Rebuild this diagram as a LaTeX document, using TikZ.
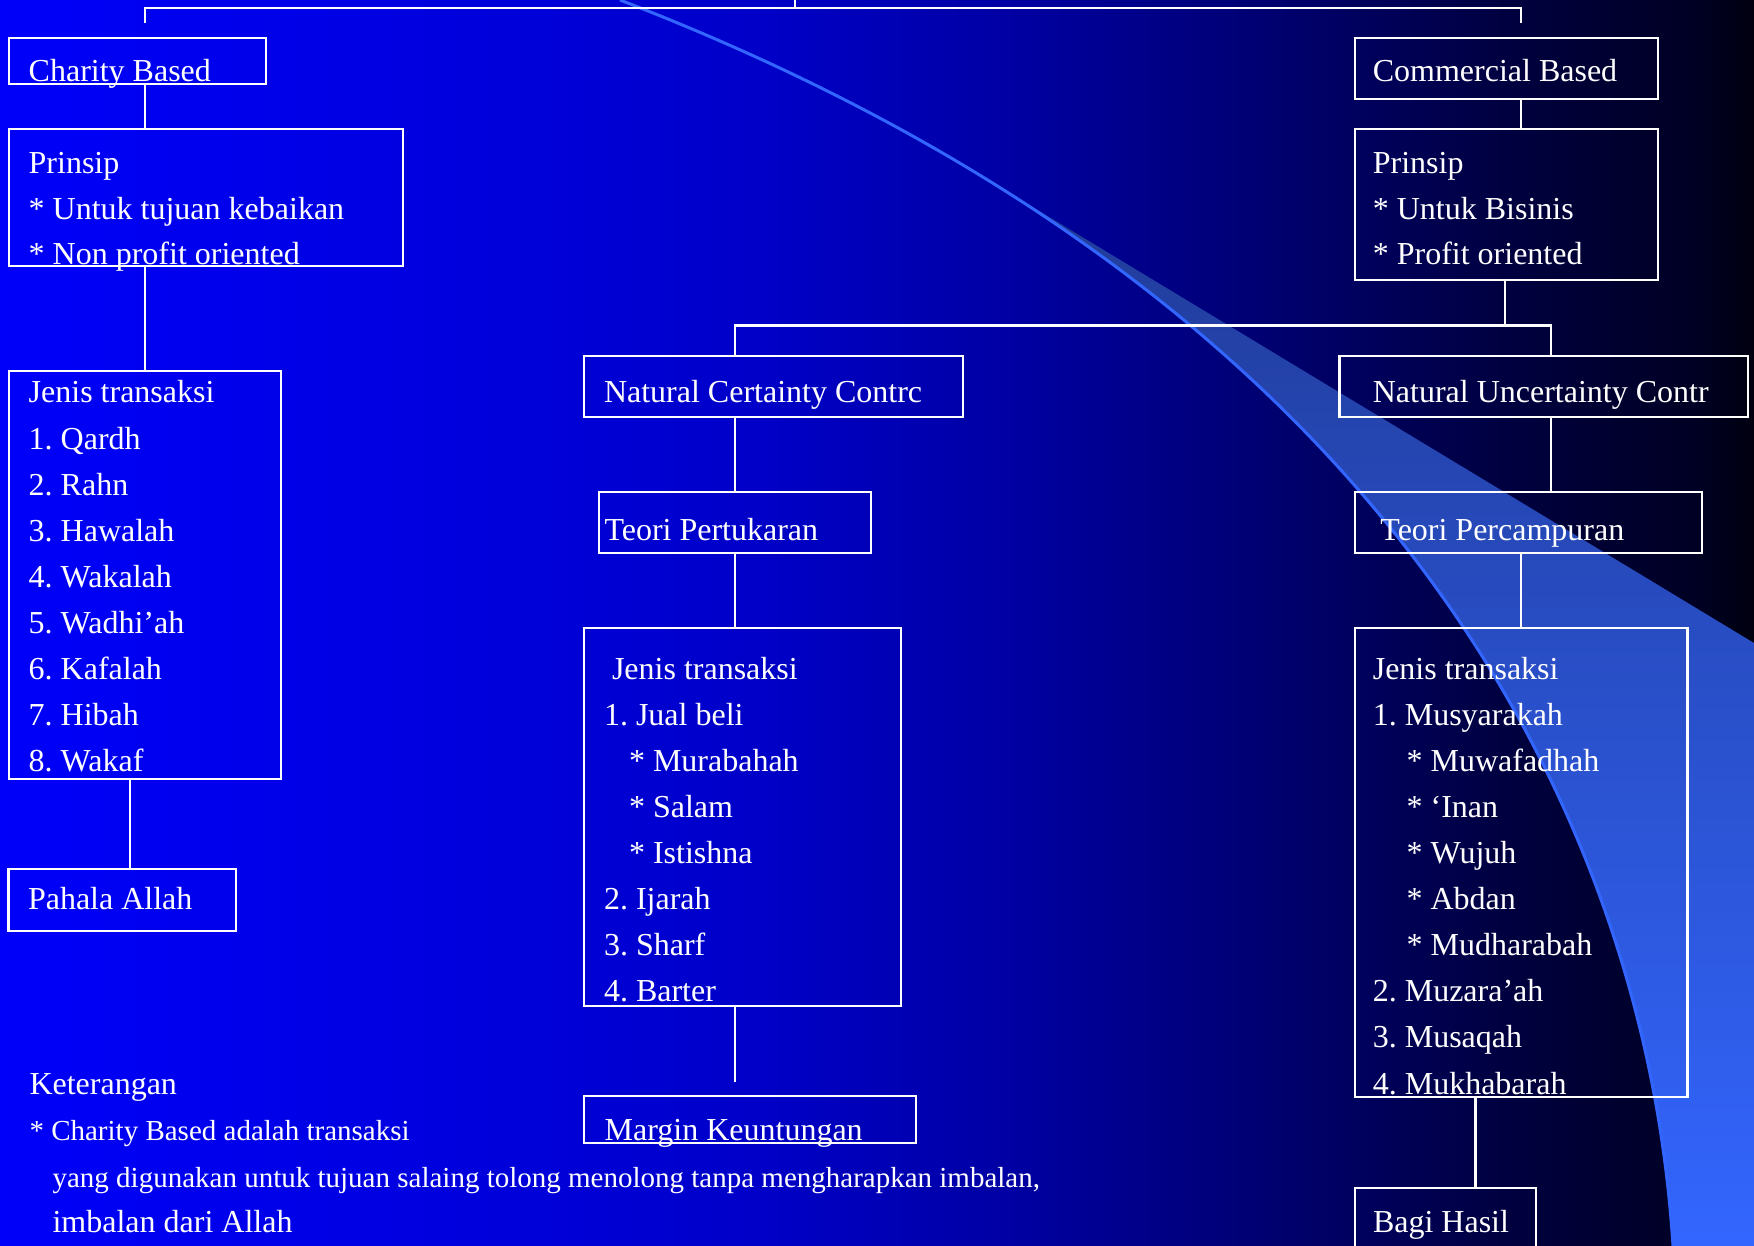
\documentclass[tikz,border=0pt]{standalone}
\usepackage{fontspec}
\setmainfont{Liberation Serif}
\frenchspacing
\definecolor{bgc0}{RGB}{0,0,250}
\definecolor{bgc1}{RGB}{0,0,215}
\definecolor{bgc2}{RGB}{0,0,200}
\definecolor{bgc3}{RGB}{0,0,165}
\definecolor{bgc4}{RGB}{0,0,100}
\definecolor{bgc5}{RGB}{0,0,65}
\definecolor{bgc6}{RGB}{0,0,35}
\definecolor{bgc7}{RGB}{0,0,15}
\definecolor{swoosh}{RGB}{51,102,255}
\definecolor{swooshtop}{RGB}{32,58,150}
\newcommand{\flowbox}[5]{\node[box, minimum width={#4-#2}, minimum height={#5-#3}] (#1) at (#2,#3) {};}
\begin{document}
\begin{tikzpicture}[x=1pt,y=-1pt,
  box/.style={draw=white, line width=2.2pt, inner sep=0pt, outer sep=0pt, anchor=north west},
  conn/.style={draw=white, line width=2.2pt},
  txt/.style={anchor=base west, inner sep=0pt, outer sep=0pt, yshift=-2.5pt, text=white, font=\fontsize{32}{38}\selectfont},
  note/.style={txt, font=\fontsize{29}{34}\selectfont},
  swline/.style={draw=swoosh, line width=3pt}]
\useasboundingbox (0,0) rectangle (1754,1246);
% background
\begin{scope}
\clip (0,0) rectangle (1754,1246);
\shade[left color=bgc0, right color=bgc1] (0,0) rectangle (560.5,1246);
\shade[left color=bgc1, right color=bgc2] (560,0) rectangle (760.5,1246);
\shade[left color=bgc2, right color=bgc3] (760,0) rectangle (1000.5,1246);
\shade[left color=bgc3, right color=bgc4] (1000,0) rectangle (1330.5,1246);
\shade[left color=bgc4, right color=bgc5] (1330,0) rectangle (1500.5,1246);
\shade[left color=bgc5, right color=bgc6] (1500,0) rectangle (1700.5,1246);
\shade[left color=bgc6, right color=bgc7] (1700,0) rectangle (1754,1246);
\begin{scope}
\clip (620,0) .. controls (1580,370) and (1660,1050) .. (1673,1246) -- (1754,1246) -- (1754,0) -- cycle;
\shade[top color=swooshtop, middle color=swoosh, bottom color=swoosh]
  (974,171.6) -- (1754,643) -- (1754,1246) -- (974,1246) -- cycle;
\end{scope}
\draw[swline] (620,0) .. controls (1580,370) and (1660,1050) .. (1673,1246);
\end{scope}
% boxes
\flowbox{cb}{8.6}{38.3}{265.8}{84.3}
\flowbox{pl}{8.6}{129.3}{403}{265.7}
\flowbox{jl}{8.6}{370.7}{281.3}{779.3}
\flowbox{pa}{8.4}{869.3}{235.7}{930.7}
\flowbox{cm}{1354.8}{38.3}{1657.6}{99}
\flowbox{pr}{1354.8}{129.3}{1657.6}{280.3}
\flowbox{nc}{583.8}{356}{962.6}{416.7}
\flowbox{nu}{1339.5}{356}{1748}{416.7}
\flowbox{tp}{598.7}{491.7}{870.8}{553}
\flowbox{tc}{1354.8}{491.7}{1702.3}{553}
\flowbox{jm}{583.6}{628.3}{900.7}{1006}
\flowbox{jr}{1354.8}{628.3}{1687.5}{1096.7}
\flowbox{mk}{583.6}{1096}{916.2}{1142.7}
\flowbox{bh}{1354.8}{1188}{1536.3}{1262}
% connector coordinates
\coordinate (topc) at (795,-2);
\coordinate (tl) at (145,8.3);
\coordinate (tr) at (1521,8.3);
\coordinate (tld) at (145,22.7);
\coordinate (trd) at (1521,22.7);
\coordinate (xa) at (145,0);
\coordinate (xb) at (129.8,0);
\coordinate (xc) at (1521,0);
\coordinate (xe) at (1505,0);
\coordinate (xf) at (735,0);
\coordinate (xg) at (1551,0);
\coordinate (xh) at (1475.4,0);
\coordinate (mb) at (0,325.5);
\coordinate (mend) at (735,1081.7);
% connectors
\draw[conn] (topc) -- (topc |- tl);
\draw[conn] (tld) -- (tl) -- (tr) -- (trd);
\draw[conn] (cb.south -| xa) -- (pl.north -| xa);
\draw[conn] (pl.south -| xa) -- (jl.north -| xa);
\draw[conn] (jl.south -| xb) -- (pa.north -| xb);
\draw[conn] (cm.south -| xc) -- (pr.north -| xc);
\draw[conn] (pr.south -| xe) -- (mb -| xe);
\draw[conn] (nc.north -| xf) -- (mb -| xf) -- (mb -| xg) -- (nu.north -| xg);
\draw[conn] (nc.south -| xf) -- (tp.north -| xf);
\draw[conn] (tp.south -| xf) -- (jm.north -| xf);
\draw[conn] (jm.south -| xf) -- (mend);
\draw[conn] (nu.south -| xg) -- (tc.north -| xg);
\draw[conn] (tc.south -| xc) -- (jr.north -| xc);
\draw[conn] (jr.south -| xh) -- (bh.north -| xh);
% texts
\node[txt] (cbt) at (28.7,79) {Charity Based};
\node[txt] (plt1) at (28.7,170.7) {Prinsip};
\node[txt] (plt2) at (28.7,216.7) {* Untuk tujuan kebaikan};
\node[txt] (plt3) at (28.7,262.3) {* Non profit oriented};
\foreach \t/\y [count=\i] in {Jenis transaksi/400, 1. Qardh/446.7, 2. Rahn/492.7, 3. Hawalah/538.7, 4. Wakalah/584.7, 5. Wadhi’ah/630.7, 6. Kafalah/676.7, 7. Hibah/722.7, 8. Wakaf/768.7}
  \node[txt] (jlt\i) at (28.7,\y) {\t};
\node[txt] (pat) at (28,906.7) {Pahala Allah};
\node[txt] (cmt) at (1372.8,79) {Commercial Based};
\node[txt] (prt1) at (1372.8,170.7) {Prinsip};
\node[txt] (prt2) at (1372.8,216.7) {* Untuk Bisinis};
\node[txt] (prt3) at (1372.8,262.3) {* Profit oriented};
\node[txt] (nct) at (604,400) {Natural Certainty Contrc};
\node[txt] (nut) at (1372.8,400) {Natural Uncertainty Contr};
\node[txt] (tpt) at (604.5,538.3) {Teori Pertukaran};
\node[txt] (tct) at (1380.4,538.3) {Teori Percampuran};
\node[txt] (jmt0) at (612,676.7) {Jenis transaksi};
\foreach \x/\t/\y [count=\i] in {604/1. Jual beli/723, 629/* Murabahah/768.7, 629/* Salam/814.7, 629/* Istishna/860.7, 604/2. Ijarah/906.7, 604/3. Sharf/953, 604/4. Barter/999}
  \node[txt] (jmt\i) at (\x,\y) {\t};
\foreach \x/\t/\y [count=\i] in {1372.8/Jenis transaksi/676.7, 1372.8/1. Musyarakah/723, 1406.6/* Muwafadhah/768.7, 1406.6/* ‘Inan/814.7, 1406.6/* Wujuh/860.7, 1406.6/* Abdan/906.7, 1406.6/* Mudharabah/953, 1372.8/2. Muzara’ah/999, 1372.8/3. Musaqah/1045, 1372.8/4. Mukhabarah/1091.5}
  \node[txt] (jrt\i) at (\x,\y) {\t};
\node[txt] (mkt) at (604.7,1138.3) {Margin Keuntungan};
\node[txt] (bht) at (1373,1230) {Bagi Hasil};
\node[txt] (ket1) at (29.5,1091.7) {Keterangan};
\node[note] (ket2) at (29.5,1138.3) {* Charity Based adalah transaksi};
\node[note] (ket3) at (52.6,1185) {yang digunakan untuk tujuan salaing tolong menolong tanpa mengharapkan imbalan,};
\node[txt] (ket4) at (52.6,1230) {imbalan dari Allah};
\end{tikzpicture}
\end{document}
